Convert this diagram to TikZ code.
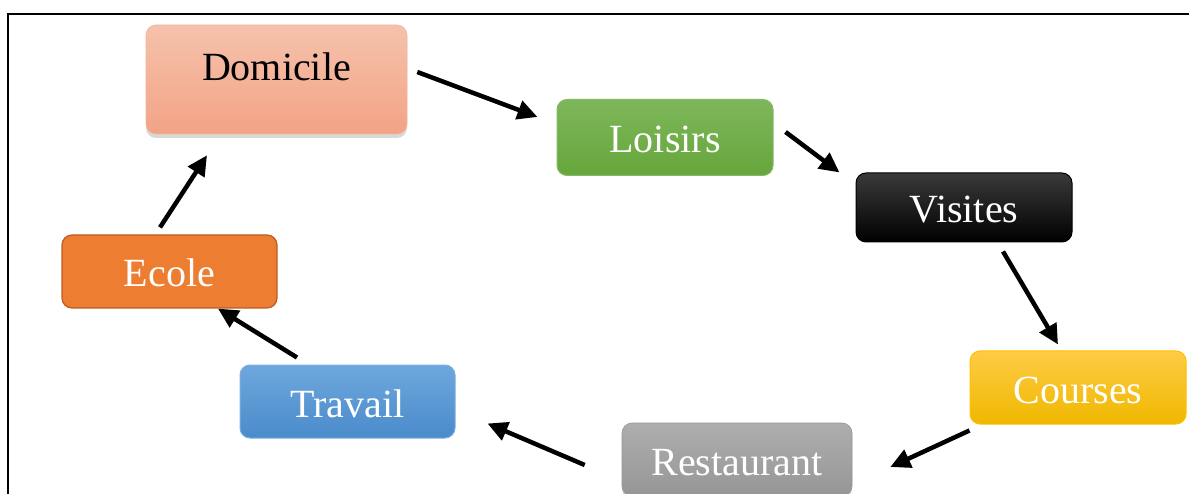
\documentclass[tikz,border=0pt]{standalone}
\usepackage{fontspec}
\setmainfont{Liberation Serif}
\usetikzlibrary{arrows.meta,calc,shadows}
\definecolor{domT}{HTML}{F6C2AC}
\definecolor{domB}{HTML}{F2A385}
\definecolor{loiT}{HTML}{7EB75B}
\definecolor{loiB}{HTML}{66A63B}
\definecolor{loiD}{HTML}{6AA843}
\definecolor{visT}{HTML}{3A3A3A}
\definecolor{visB}{HTML}{000000}
\definecolor{couT}{HTML}{FFCB45}
\definecolor{couB}{HTML}{EFB800}
\definecolor{couD}{HTML}{FFC000}
\definecolor{resT}{HTML}{AEAEAE}
\definecolor{resB}{HTML}{969696}
\definecolor{traT}{HTML}{6EA7DD}
\definecolor{traB}{HTML}{4A8BCB}
\definecolor{traD}{HTML}{5B9BD5}
\definecolor{ecoF}{HTML}{ED7D31}
\definecolor{ecoD}{HTML}{BE5B1F}
\tikzset{
  box/.style={rounded corners=10pt, minimum width=216pt, minimum height=76pt,
    inner sep=0pt, font=\fontsize{40}{44}\selectfont, text=white,
    text height=31pt, text depth=0pt},
  conn/.style={line width=4.5pt, -{Triangle[length=20pt,width=19pt]}},
}
\begin{document}
\begin{tikzpicture}[x=1pt,y=-1pt]
\useasboundingbox (0,0) rectangle (1189,494);
\clip (0,0) rectangle (1189,494);
\fill[white] (0,0) rectangle (1189,494);
\draw[line width=2.2pt] (8,494) -- (8,14) -- (1189,14);

\node[box, minimum width=261pt, minimum height=109pt, text=black, text depth=28pt,
  top color=domT, bottom color=domB, draw=domB!80!white, line width=0.6pt,
  drop shadow={shadow xshift=0pt, shadow yshift=-4pt, opacity=0.3}]
  (dom) at (276.5,79.5) {Domicile};
\node[box, top color=loiT, bottom color=loiB, draw=loiD!80!white, line width=1pt]
  (loi) at (665,137.5) {Loisirs};
\node[box, minimum height=69pt, top color=visT, bottom color=visB, draw=black, line width=1pt]
  (vis) at (964,207.5) {Visites};
\node[box, minimum height=73pt, top color=couT, bottom color=couB, draw=couD, line width=1pt]
  (cou) at (1078,387.5) {Courses};
\node[box, minimum width=230pt, minimum height=73pt, top color=resT, bottom color=resB,
  draw=resB, line width=0.6pt,
  drop shadow={shadow xshift=0pt, shadow yshift=-3pt, opacity=0.3}]
  (res) at (737,459.5) {Restaurant};
\node[box, minimum width=215pt, minimum height=73pt, top color=traT, bottom color=traB,
  draw=traD!80!white, line width=1pt]
  (tra) at (347.5,401.5) {Travail};
\node[box, minimum width=215pt, minimum height=73pt, fill=ecoF, draw=ecoD, line width=1.2pt]
  (eco) at (169.5,271.5) {Ecole};

\draw[conn] ($(dom.east)+(10,-7.5)$) -- ($(loi.west)+(-19,-20.5)$);
\draw[conn] ($(loi.east)+(12,-5.5)$) -- ($(vis.north west)+(-16,0)$);
\draw[conn] ($(vis.south)+(39,9)$) -- ($(cou.north)+(-20,-6)$);
\draw[conn] ($(cou.south west)+(0,6)$) -- ($(res.east)+(38,7.5)$);
\draw[conn] ($(res.west)+(-37,5.5)$) -- ($(tra.south east)+(32,-15)$);
\draw[conn] ($(tra.north)+(-50.5,-7)$) -- ($(eco.south)+(48.5,0)$);
\draw[conn] ($(eco.north)+(-9.5,-7)$) -- ($(dom.south)+(-69.5,21)$);
\end{tikzpicture}
\end{document}
